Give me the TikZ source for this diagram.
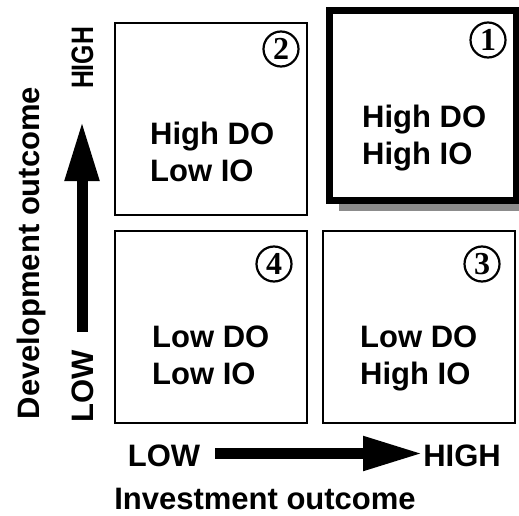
\documentclass[tikz,border=0pt]{standalone}
\usepackage{fontspec}
\setmainfont{Liberation Sans}
\newfontfamily\numfont{Liberation Serif}
\usetikzlibrary{arrows.meta}
\begin{document}
\begin{tikzpicture}[x=1pt,y=-1pt,
  quad/.style={draw=black,line width=2pt,minimum width=192pt,minimum height=192pt,inner sep=0pt},
  bigquad/.style={draw=black,line width=7pt,fill=white,minimum width=186.5pt,minimum height=189.5pt,inner sep=0pt},
  quadtext/.style={anchor=north west,align=left,inner sep=0pt,font=\fontsize{31}{37}\selectfont\bfseries},
  lbl/.style={inner sep=0pt,font=\fontsize{31}{31}\selectfont\bfseries},
  num/.style={draw=black,circle,line width=2.2pt,minimum size=35pt,inner sep=0pt,font=\fontsize{32}{32}\selectfont\numfont\bfseries},
  axisarrow/.style={line width=11pt,-{Triangle[length=60pt,width=32pt]}}]
\useasboundingbox (0,0) rectangle (519,516);
% shadow of the highlighted quadrant
\fill[black!45] (339,18) rectangle (540,211);
\node[bigquad] (q1) at (423,105.75) {};
\node[quad] (q2) at (211,119) {};
\node[quad] (q4) at (211,327) {};
\node[quad] (q3) at (419,327) {};
% texts
\node[quadtext] (t1) at (362,105) {High DO\\High IO};
\node[quadtext] (t2) at (150,122) {High DO\\Low IO};
\node[quadtext] (t3) at (360,326) {Low DO\\High IO};
\node[quadtext] (t4) at (152,326) {Low DO\\Low IO};
% numbers
\node[num] (n1) at (488,40) {1};
\node[num] (n2) at (281,49) {2};
\node[num] (n3) at (482,264) {3};
\node[num] (n4) at (274,264) {4};
% axes
\coordinate (vs) at (82,332);
\coordinate (ve) at (82,121);
\coordinate (hs) at (215,453.5);
\coordinate (he) at (423,453.5);
\draw[axisarrow] (vs) -- (ve);
\draw[axisarrow] (hs) -- (he);
\node[lbl,anchor=base] (xlow) at (164,466) {LOW};
\node[lbl,anchor=base] (xhigh) at (462,466) {HIGH};
\node[lbl,anchor=base] (xlab) at (265,509) {Investment outcome};
\node[lbl,anchor=base,rotate=90] (ylow) at (93,386) {LOW};
\node[lbl,anchor=base,rotate=90] (yhigh) at (93,58) {\scalebox{0.8}[1]{HIGH}};
\node[lbl,anchor=base,rotate=90] (ylab) at (39,253) {Development outcome};
\end{tikzpicture}
\end{document}
